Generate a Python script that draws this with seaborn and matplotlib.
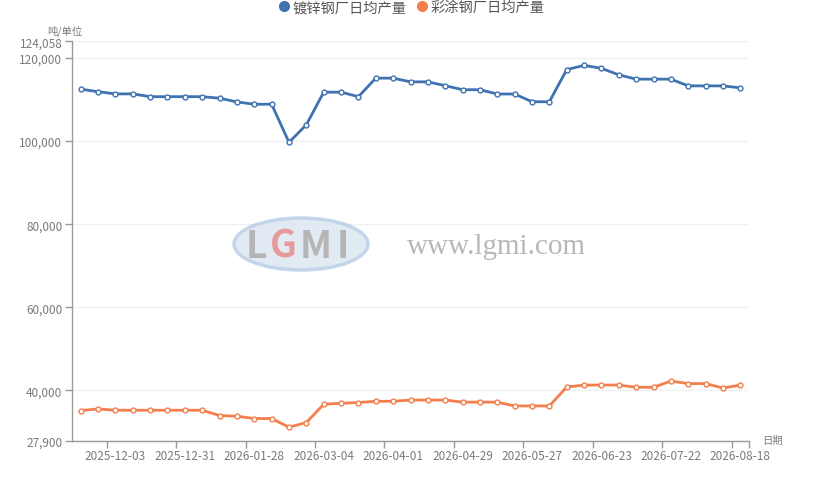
import matplotlib
matplotlib.use("Agg")
import matplotlib.pyplot as plt
from matplotlib.patches import Ellipse
from matplotlib.lines import Line2D
from matplotlib.ticker import FuncFormatter
import seaborn as sns
import pandas as pd

dates = ["2025-11-19", "2025-11-26", "2025-12-03", "2025-12-10", "2025-12-17", "2025-12-24",
         "2025-12-31", "2026-01-07", "2026-01-14", "2026-01-21", "2026-01-28", "2026-02-04",
         "2026-02-11", "2026-02-25", "2026-03-04", "2026-03-11", "2026-03-18", "2026-03-25",
         "2026-04-01", "2026-04-08", "2026-04-15", "2026-04-22", "2026-04-29", "2026-05-06",
         "2026-05-13", "2026-05-20", "2026-05-27", "2026-06-03", "2026-06-10", "2026-06-17",
         "2026-06-23", "2026-07-01", "2026-07-08", "2026-07-15", "2026-07-22", "2026-07-29",
         "2026-08-05", "2026-08-12", "2026-08-18"]

galvanized = [112500, 111900, 111370, 111370, 110700, 110700, 110700, 110700, 110330, 109430,
              108880, 108880, 99700, 103940, 111780, 111780, 110700, 115160, 115160, 114270,
              114270, 113350, 112380, 112380, 111340, 111340, 109480, 109480, 117220, 118230,
              117530, 115960, 114920, 114920, 114920, 113300, 113300, 113300, 112820]

coated = [35120, 35500, 35190, 35190, 35190, 35190, 35190, 35190, 33910, 33750,
          33190, 33190, 31100, 32230, 36630, 36870, 37040, 37350, 37350, 37640,
          37640, 37640, 37140, 37140, 37140, 36220, 36220, 36220, 40770, 41250,
          41250, 41250, 40720, 40720, 42210, 41610, 41610, 40530, 41250]

series_names = ["镀锌钢厂日均产量", "彩涂钢厂日均产量"]
y_ticks = [27900, 40000, 60000, 80000, 100000, 120000, 124058]
label_idx = [2, 6, 10, 14, 18, 22, 26, 30, 34, 38]

colors = ["#3f72b0", "#f47f4c"]
axis_gray = "#9a9a9a"
text_gray = "#7a7a7a"

sns.set_theme(style="white")
plt.rcParams['font.family'] = ['Noto Sans CJK SC', 'DejaVu Sans']

W, H = 830, 489
fig = plt.figure(figsize=(W / 100, H / 100), dpi=100)
ax = fig.add_axes([72 / W, 1 - 441.5 / H, (749 - 72) / W, (441.5 - 42.2) / H])

df = pd.DataFrame({
    "idx": list(range(len(dates))) * 2,
    "value": galvanized + coated,
    "series": [series_names[0]] * len(dates) + [series_names[1]] * len(dates),
})

# watermark (behind data)
fig.patches.append(Ellipse((301 / W, 1 - 245 / H), 134 / W, 52 / H, transform=fig.transFigure,
                           facecolor="#dde7f3", edgecolor="#bcd0e8", lw=2.5, alpha=0.85, zorder=0))
fig.text(256 / W, 1 - 246 / H, "L", fontsize=27, color="#b5b5b5", fontweight="bold", ha="center", va="center", zorder=1)
fig.text(283 / W, 1 - 246 / H, "G", fontsize=27, color="#e89a9a", fontweight="bold", ha="center", va="center", zorder=1)
fig.text(316 / W, 1 - 246 / H, "M", fontsize=27, color="#b5b5b5", fontweight="bold", ha="center", va="center", zorder=1)
fig.text(343 / W, 1 - 246 / H, "I", fontsize=27, color="#b5b5b5", fontweight="bold", ha="center", va="center", zorder=1)
fig.text(496 / W, 1 - 247 / H, "www.lgmi.com", fontsize=21, color="#b8b8b8", family="Liberation Serif",
         ha="center", va="center", zorder=1)

for yt in y_ticks:
    ax.axhline(yt, color="#eef0f4", lw=1, zorder=0)

sns.lineplot(data=df, x="idx", y="value", hue="series", palette=colors, ax=ax,
             marker="o", markersize=3.5, markerfacecolor="white", markeredgewidth=1.0,
             linewidth=2, legend=False, zorder=3)
for line, c in zip(ax.lines[-2:], colors):
    line.set_markeredgecolor(c)

ax.set_xlim(-0.5, len(dates) - 0.5)
ax.set_ylim(27900, 124058)
ax.set_facecolor("none")
ax.patch.set_alpha(0)

ax.set_yticks(y_ticks)
ax.yaxis.set_major_formatter(FuncFormatter(lambda v, p: f"{int(round(v)):,}"))
ax.tick_params(axis="y", which="major", length=5, width=1, color=axis_gray,
               labelsize=8.5, labelcolor=text_gray, pad=2, left=True)

ax.set_xticks(label_idx)
ax.set_xticklabels([dates[i] for i in label_idx])
ax.tick_params(axis="x", which="major", length=0, labelsize=8.5, labelcolor=text_gray, pad=6)
ax.set_xticks([i - 0.5 for i in label_idx] + [len(dates) - 0.5], minor=True)
ax.tick_params(axis="x", which="minor", length=5, width=1, color=axis_gray, bottom=True)

for s in ["top", "right"]:
    ax.spines[s].set_visible(False)
for s in ["left", "bottom"]:
    ax.spines[s].set_color(axis_gray)
    ax.spines[s].set_linewidth(1)
ax.set_xlabel("")
ax.set_ylabel("")

fig.text(65 / W, 1 - 31 / H, "吨/单位", fontsize=7.5, color=text_gray, ha="center", va="center")
fig.text(762 / W, 1 - 441 / H, "日期", fontsize=7.5, color=text_gray, ha="left", va="center")

handles = [Line2D([], [], marker="o", linestyle="none", markersize=7, color=c) for c in colors]
fig.legend(handles, series_names, loc="center", bbox_to_anchor=(411 / W, 1 - 8 / H), ncol=2,
           frameon=False, fontsize=10.3, labelcolor="#555555", handletextpad=0.1,
           columnspacing=0.6, handlelength=1.0, borderaxespad=0)

fig.savefig("out.png", dpi=100)
